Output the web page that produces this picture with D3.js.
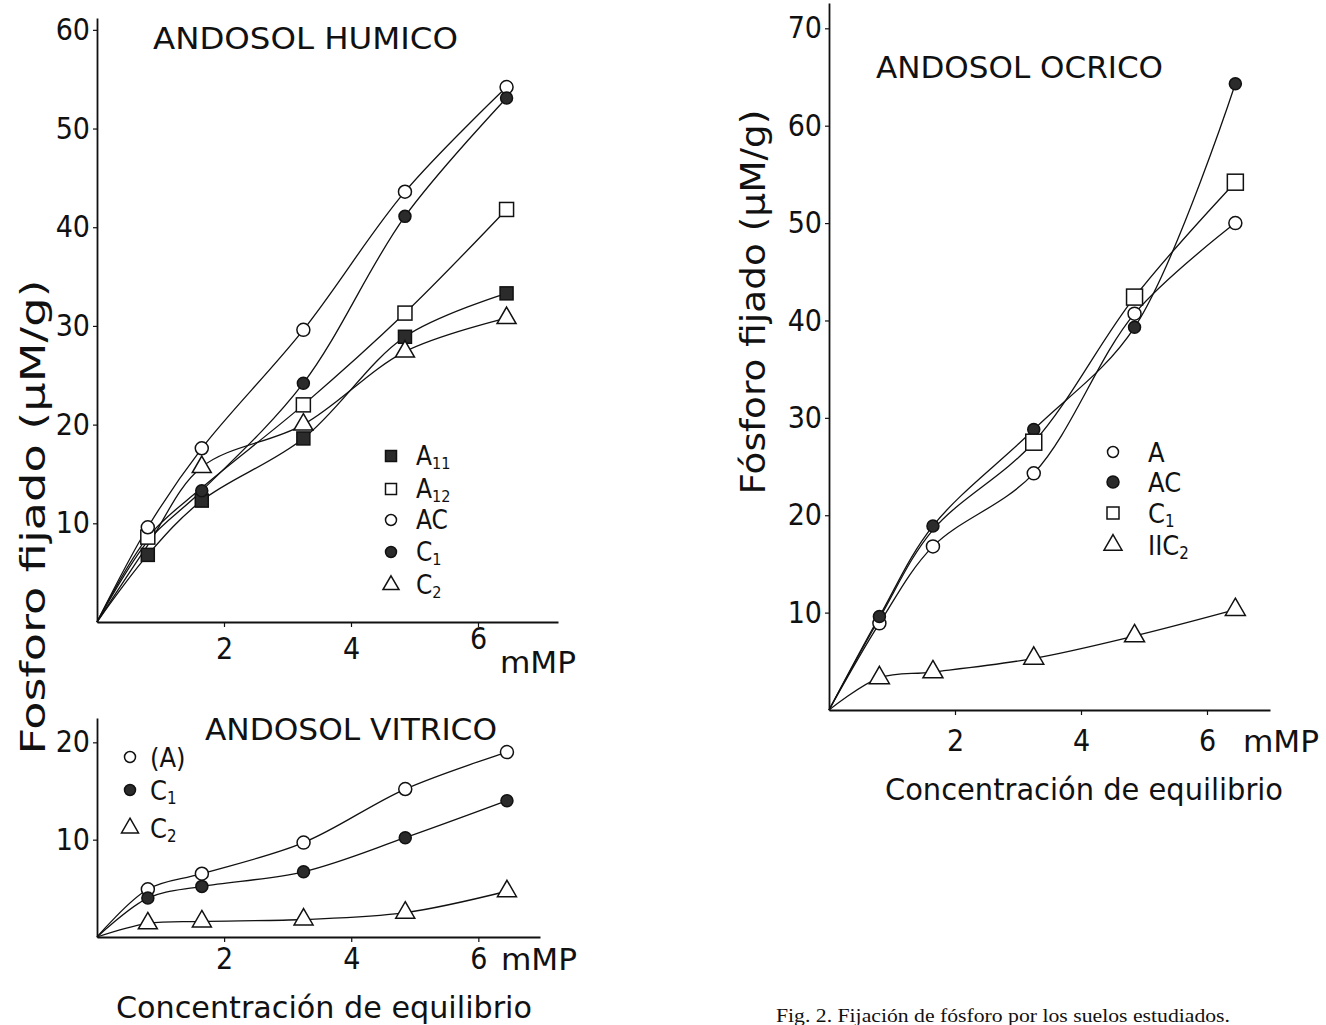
<!DOCTYPE html>
<html>
<head>
<meta charset="utf-8">
<script src="https://cdn.jsdelivr.net/npm/d3@7"></script>
<style>
  body { margin: 0; background: #fff; }
  svg text { font-family: "DejaVu Sans Condensed", "DejaVu Sans", sans-serif; font-stretch: condensed; fill: #111; }
</style>
</head>
<body>
<svg id="chart" width="1326" height="1025"></svg>
<script>
// equilibrium concentration (mM P) of the five measured points
var xConc = [0.8, 1.65, 3.25, 4.85, 6.45];
var xTicks = [2, 4, 6];

// Andosol humico
var humicoTicks = [10, 20, 30, 40, 50, 60];
var humA11 = [6.8, 12.3, 18.6, 28.9, 33.3];
var humA12 = [8.6, 13.6, 22.0, 31.3, 41.8];
var humAC = [9.6, 17.6, 29.6, 43.6, 54.2];
var humC1 = [8.2, 13.3, 24.2, 41.1, 53.1];
var humC2 = [7.8, 15.7, 20.0, 27.4, 30.8];
// points whose symbol is hidden under another one in the original
var humA12Shown = [1, 0, 1, 1, 1];
var humC1Shown = [0, 1, 1, 1, 1];
var humC2Shown = [0, 1, 1, 1, 1];

// Andosol vitrico
var vitricoTicks = [10, 20];
var vitA = [4.9, 6.5, 9.7, 15.2, 19.0];
var vitC1 = [4.0, 5.2, 6.7, 10.2, 14.0];
var vitC2 = [1.4, 1.6, 1.8, 2.5, 4.7];

// Andosol ocrico
var ocricoTicks = [10, 20, 30, 40, 50, 60, 70];
var ocrA = [8.9, 16.8, 24.3, 40.7, 50.0];
var ocrAC = [9.6, 18.9, 28.8, 39.3, 64.3];
var ocrC1 = [9.4, 18.5, 27.5, 42.4, 54.2];
var ocrIIC2 = [3.3, 3.9, 5.3, 7.6, 10.3];
var ocrC1Shown = [0, 0, 1, 1, 1];

const svg = d3.select("#chart");

function marker(g, type, cx, cy, size) {
  let filled = type.indexOf("Filled") != -1;
  let fill = filled ? "#2b2b2b" : "#fff";
  if (type.indexOf("circle") == 0) {
    g.append("circle")
      .attr("cx", cx).attr("cy", cy).attr("r", size / 2)
      .attr("fill", fill).attr("stroke", "#111").attr("stroke-width", 1.5);
  } else if (type.indexOf("square") == 0) {
    g.append("rect")
      .attr("x", cx - size / 2).attr("y", cy - size / 2)
      .attr("width", size).attr("height", size)
      .attr("fill", fill).attr("stroke", "#111").attr("stroke-width", 1.5);
  } else {
    let h = size / Math.sqrt(3);
    g.append("path")
      .attr("d", `M${cx},${cy - h}L${cx + size / 2},${cy + h / 2}L${cx - size / 2},${cy + h / 2}Z`)
      .attr("fill", fill).attr("stroke", "#111").attr("stroke-width", 1.5);
  }
}

function label(g, x, y, main, sub, size) {
  let t = g.append("text").attr("x", x).attr("y", y).attr("font-size", size).text(main);
  if (sub)
    t.append("tspan").attr("font-size", size * 0.62).attr("dy", size * 0.14).text(sub);
}

function styleAxis(sel) {
  sel.select(".domain").attr("stroke", "#111").attr("stroke-width", 1.8);
  sel.selectAll(".tick line").attr("stroke", "#111").attr("stroke-width", 1.2);
  sel.selectAll(".tick text").attr("font-size", 30).attr("fill", "#111");
}

function drawPanel(p) {
  const x = d3.scaleLinear().domain([0, p.xMax]).range([p.left, p.right]);
  const y = d3.scaleLinear().domain([0, p.yMax]).range([p.bottom, p.top]);
  const g = svg.append("g");

  const xAxis = g.append("g")
    .attr("transform", `translate(0,${p.bottom})`)
    .call(d3.axisBottom(x).tickValues(xTicks).tickFormat(d3.format("d"))
      .tickSize(5).tickSizeOuter(0).tickPadding(p.xPad))
    .call(styleAxis);
  if (p.raise6)
    xAxis.selectAll(".tick text").filter(d => d == 6).attr("y", 5 + p.xPad - p.raise6);

  g.append("g")
    .attr("transform", `translate(${p.left},0)`)
    .call(d3.axisLeft(y).tickValues(p.yTicks).tickFormat(d3.format("d"))
      .tickSize(4).tickSizeOuter(0).tickPadding(3))
    .call(styleAxis);

  const line = d3.line()
    .x(d => x(d[0]))
    .y(d => y(d[1]))
    .curve(d3.curveCatmullRom.alpha(0.5));

  for (let s of p.series) {
    let pts = [[0, 0]].concat(xConc.map((v, i) => [v, s.values[i]]));
    g.append("path")
      .attr("d", line(pts))
      .attr("fill", "none")
      .attr("stroke", "#111")
      .attr("stroke-width", 1.3);
  }
  for (let s of p.series) {
    xConc.forEach((v, i) => {
      if (!s.shown || s.shown[i])
        marker(g, s.marker, x(v), y(s.values[i]), s.size);
    });
  }

  // legend
  p.series.forEach((s, i) => {
    let ly = p.legend.y[i];
    marker(g, s.marker, p.legend.x, ly, s.legendSize);
    label(g, p.legend.tx, ly + p.legend.font * 0.36, s.name, s.sub, p.legend.font);
  });

  // title
  g.append("text")
    .attr("x", p.title.x).attr("y", p.title.y)
    .attr("font-size", 31)
    .attr("textLength", p.title.w).attr("lengthAdjust", "spacingAndGlyphs")
    .text(p.title.text);

  // unit after the last tick
  g.append("text")
    .attr("x", p.unit.x).attr("y", p.unit.y)
    .attr("font-size", 30)
    .attr("textLength", 76).attr("lengthAdjust", "spacingAndGlyphs")
    .text("mMP");
}

drawPanel({
  xMax: 7.26, left: 97, right: 558,
  yMax: 61.2, bottom: 622, top: 18,
  yTicks: humicoTicks, xPad: 11, raise6: 10,
  series: [
    { name: "A", sub: "11", marker: "squareFilled", values: humA11, size: 13, legendSize: 11 },
    { name: "A", sub: "12", marker: "squareOpen", values: humA12, shown: humA12Shown, size: 14, legendSize: 11 },
    { name: "AC", sub: "", marker: "circleOpen", values: humAC, size: 13, legendSize: 11 },
    { name: "C", sub: "1", marker: "circleFilled", values: humC1, shown: humC1Shown, size: 12, legendSize: 11 },
    { name: "C", sub: "2", marker: "triangleOpen", values: humC2, shown: humC2Shown, size: 19, legendSize: 16 }
  ],
  legend: { x: 391, tx: 416, font: 26, y: [456, 489, 520, 552, 585] },
  title: { text: "ANDOSOL  HUMICO", x: 153, y: 49, w: 305 },
  unit: { x: 500, y: 673 }
});

drawPanel({
  xMax: 6.97, left: 97, right: 540,
  yMax: 22.5, bottom: 937, top: 718,
  yTicks: vitricoTicks, xPad: 6,
  series: [
    { name: "(A)", sub: "", marker: "circleOpen", values: vitA, size: 13, legendSize: 11 },
    { name: "C", sub: "1", marker: "circleFilled", values: vitC1, size: 12, legendSize: 11 },
    { name: "C", sub: "2", marker: "triangleOpen", values: vitC2, size: 19, legendSize: 17 }
  ],
  legend: { x: 130, tx: 150, font: 27, y: [757, 790, 828] },
  title: { text: "ANDOSOL VITRICO", x: 205, y: 740, w: 292 },
  unit: { x: 501, y: 970 }
});

drawPanel({
  xMax: 7.0, left: 829, right: 1270,
  yMax: 72.6, bottom: 710, top: 3,
  yTicks: ocricoTicks, xPad: 15,
  series: [
    { name: "A", sub: "", marker: "circleOpen", values: ocrA, size: 13, legendSize: 11 },
    { name: "AC", sub: "", marker: "circleFilled", values: ocrAC, size: 12, legendSize: 12 },
    { name: "C", sub: "1", marker: "squareOpen", values: ocrC1, shown: ocrC1Shown, size: 16, legendSize: 12 },
    { name: "IIC", sub: "2", marker: "triangleOpen", values: ocrIIC2, size: 20, legendSize: 18 }
  ],
  legend: { x: 1113, tx: 1148, font: 27, y: [452, 482, 513, 545] },
  title: { text: "ANDOSOL OCRICO", x: 876, y: 78, w: 287 },
  unit: { x: 1243, y: 752 }
});

// axis titles
svg.append("text")
  .attr("transform", "translate(45,517) rotate(-90)")
  .attr("text-anchor", "middle")
  .attr("font-size", 33)
  .attr("textLength", 475).attr("lengthAdjust", "spacingAndGlyphs")
  .text("Fosforo  fijado  (μM/g)");

svg.append("text")
  .attr("transform", "translate(765,302) rotate(-90)")
  .attr("text-anchor", "middle")
  .attr("font-size", 33)
  .attr("textLength", 385).attr("lengthAdjust", "spacingAndGlyphs")
  .text("Fósforo fijado (μM/g)");

svg.append("text")
  .attr("x", 116).attr("y", 1018)
  .attr("font-size", 30)
  .attr("textLength", 416).attr("lengthAdjust", "spacingAndGlyphs")
  .text("Concentración de equilibrio");

svg.append("text")
  .attr("x", 885).attr("y", 800)
  .attr("font-size", 30)
  .attr("textLength", 398).attr("lengthAdjust", "spacingAndGlyphs")
  .text("Concentración de equilibrio");

// caption
svg.append("text")
  .attr("x", 776).attr("y", 1022)
  .attr("font-size", 19)
  .style("font-family", "'Liberation Serif', 'DejaVu Serif', serif")
  .style("font-stretch", "normal")
  .attr("fill", "#333")
  .attr("textLength", 454).attr("lengthAdjust", "spacingAndGlyphs")
  .text("Fig. 2.  Fijación de fósforo por los suelos estudiados.");
</script>
</body>
</html>
